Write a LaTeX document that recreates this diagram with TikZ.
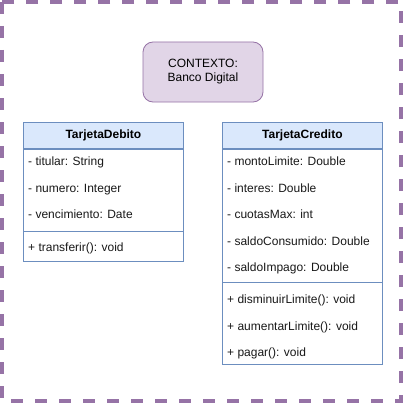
\documentclass[tikz,border=0pt]{standalone}
\usepackage{fontspec}
\setmainfont{Liberation Sans}
\definecolor{ctxfill}{HTML}{E1D5E7}
\definecolor{ctxdraw}{HTML}{9673A6}
\definecolor{hdrfill}{HTML}{DAE8FC}
\definecolor{hdrdraw}{HTML}{6C8EBF}
\tikzset{
  frame/.style={draw=ctxdraw, line width=3.5pt, dash pattern=on 12pt off 12pt},
  ctx/.style={draw=ctxdraw, fill=ctxfill, rounded corners=10pt, line width=0.8pt, minimum width=120pt, minimum height=60pt, align=center, font=\fontsize{12}{14}\selectfont, inner sep=0pt},
  hdr/.style={draw=hdrdraw, fill=hdrfill, line width=0.8pt, minimum width=160pt, minimum height=26pt, anchor=north west, font=\fontsize{12}{14}\selectfont\bfseries, inner sep=0pt},
  body/.style={draw=hdrdraw, fill=white, line width=0.8pt, minimum width=160pt, anchor=north west, inner sep=0pt},
  item/.style={anchor=base west, font=\fontsize{12}{14}\selectfont, inner sep=0pt, text=black!90},
  sep/.style={draw=hdrdraw, line width=0.8pt}
}
\begin{document}
\begin{tikzpicture}[x=1pt,y=-1pt]
\useasboundingbox (0,0) rectangle (404,404);
\fill[white] (0,0) rectangle (404,404);
\draw[frame] (2,2) rectangle (401,401);
\node[ctx] (ctx) at (203,72) {CONTEXTO:\\Banco Digital};
% TarjetaDebito
\node[hdr] (dh) at (23,122) {TarjetaDebito};
\node[body, minimum height=112pt] (db) at (dh.south west) {};
\coordinate (dl) at (23,231);
\coordinate (dr) at (183,231);
\draw[sep] (dl) -- (dr);
\node[item] (d1) at (28,165) {- titular: String};
\node[item] (d2) at (28,192) {- numero: Integer};
\node[item] (d3) at (28,218) {- vencimiento: Date};
\node[item] (d4) at (28,251) {+ transferir(): void};
% TarjetaCredito
\node[hdr] (ch) at (222,122) {TarjetaCredito};
\node[body, minimum height=215pt] (cb) at (ch.south west) {};
\coordinate (cl) at (222,282);
\coordinate (cr) at (382,282);
\draw[sep] (cl) -- (cr);
\node[item] (c1) at (227,165) {- montoLimite: Double};
\node[item] (c2) at (227,192) {- interes: Double};
\node[item] (c3) at (227,218) {- cuotasMax: int};
\node[item] (c4) at (227,245) {- saldoConsumido: Double};
\node[item] (c5) at (227,271) {- saldoImpago: Double};
\node[item] (c6) at (227,303) {+ disminuirLimite(): void};
\node[item] (c7) at (227,330) {+ aumentarLimite(): void};
\node[item] (c8) at (227,356) {+ pagar(): void};
\end{tikzpicture}
\end{document}
